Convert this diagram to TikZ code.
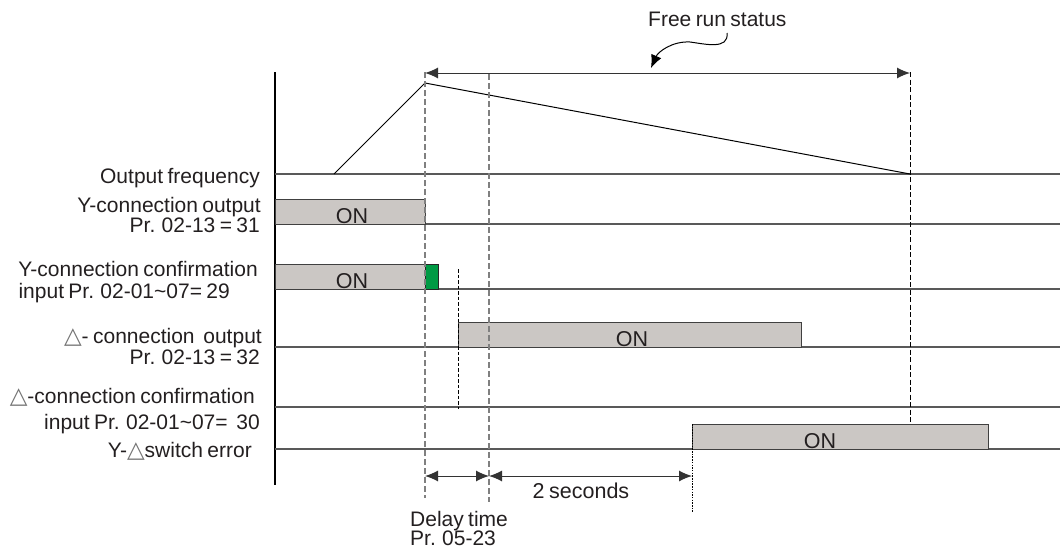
\documentclass[tikz,border=0pt]{standalone}
\usepackage{fontspec}
\setmainfont{Liberation Sans}[WordSpace={0.75,0.5,0.3}]
\newfontfamily\symfont{DejaVu Sans}
\usetikzlibrary{arrows.meta}
\definecolor{boxgray}{HTML}{CBC7C4}
\definecolor{confgreen}{HTML}{009A44}
\definecolor{inkgray}{HTML}{231F20}
\newcommand{\deltri}{{\symfont\color{black!55}\fontsize{23}{24}\selectfont △}}

\begin{document}
\begin{tikzpicture}[x=1pt,y=-1pt,>=Latex,
  lbl/.style={anchor=base east,inner sep=0pt,text=inkgray,font=\fontsize{21}{23}\selectfont},
  txt/.style={anchor=base west,inner sep=0pt,text=inkgray,font=\fontsize{21}{23}\selectfont},
  ontxt/.style={anchor=base,inner sep=0pt,text=inkgray,font=\fontsize{21.5}{23}\selectfont},
  trace/.style={draw=black!65,line width=1.4pt},
  onbox/.style={draw=black!75,fill=boxgray,line width=1pt},
  guide/.style={draw=black!50,line width=1.5pt,dash pattern=on 6pt off 3pt},
  endmark/.style={draw=black,line width=1pt,dash pattern=on 5pt off 2.5pt},
  dimline/.style={draw=black!80,line width=1pt,{Latex[length=13pt,width=11pt]}-{Latex[length=13pt,width=11pt]}}]
\useasboundingbox (0,0) rectangle (1063,549);

% time marks
\coordinate (t0) at (334,174);
\coordinate (t1) at (425,83);
\coordinate (t6) at (910,174);

% axis and baselines
\draw[black,line width=1.4pt] (275,72) -- (275,485);
\foreach \yy in {174,224,289,347,407,449}
  \draw[trace] (275,\yy) -- (1060,\yy);

% ON boxes
\draw[onbox] (275,199) rectangle (425,224);
\draw[onbox] (275,264) rectangle (425,289);
\draw[draw=black!85,fill=confgreen,line width=1pt] (425,264) rectangle (438,289);
\draw[onbox] (458,322) rectangle (801,347);
\draw[onbox] (692,424) rectangle (988,449);
\node[ontxt] (on1) at (352,223) {ON};
\node[ontxt] (on2) at (352,288) {ON};
\node[ontxt] (on3) at (632,346) {ON};
\node[ontxt] (on4) at (820,448) {ON};

% output frequency
\draw[black,line width=1pt] (t0) -- (t1) -- (t6);

% dashed guides
\draw[guide] (425,72) -- (425,498);
\draw[guide] (489,74) -- (489,502);
\draw[black,line width=0.9pt,dash pattern=on 3.5pt off 2pt] (458,269) -- (458,409);
\draw[endmark] (910,72) -- (910,424);
\draw[black,line width=0.9pt,dash pattern=on 1.5pt off 1.2pt] (692,424) -- (692,512);

% dimension arrows
\coordinate (fa) at (425,73);
\coordinate (fb) at (910,73);
\draw[dimline] (fa) -- (fb);
\coordinate (da) at (425,476);
\coordinate (db) at (489,476);
\coordinate (dc) at (692,476);
\draw[dimline] (da) -- (db);
\draw[dimline] (db) -- (dc);

% free run label
\node[txt] (free) at (648,26) {Free run status};
\coordinate (cur) at (727,33);
\coordinate (tip) at (651,68);
\draw[black,line width=1pt,-{Latex[length=13pt,width=11pt]}] (cur) .. controls (729,50) and (705,44) .. (690,42) .. controls (672,41) and (658,52) .. (tip);

% signal labels
\node[lbl] (l1) at (260,183) {Output frequency};
\node[lbl] (l2) at (261,212) {Y-connection output};
\node[lbl] (l3) at (260,232) {Pr. 02-13 = 31};
\node[lbl] (l4) at (258,276) {Y-connection confirmation};
\node[lbl] (l5) at (230,298) {input Pr. 02-01\textasciitilde 07= 29};
\node[lbl] (l6) at (262,343) {\deltri- connection\ \ output};
\node[lbl] (l7) at (260,364) {Pr. 02-13 = 32};
\node[lbl] (l8) at (255,403) {\deltri-connection confirmation};
\node[lbl] (l9) at (260,429) {input Pr. 02-01\textasciitilde 07=\ \ 30};
\node[lbl] (l10) at (252,457) {Y-\deltri switch error};

% bottom labels
\node[ontxt] (two) at (581,498) {2 seconds};
\node[txt] (delay) at (410,526) {Delay time};
\node[txt] (pr) at (410,545) {Pr. 05-23};
\end{tikzpicture}
\end{document}
